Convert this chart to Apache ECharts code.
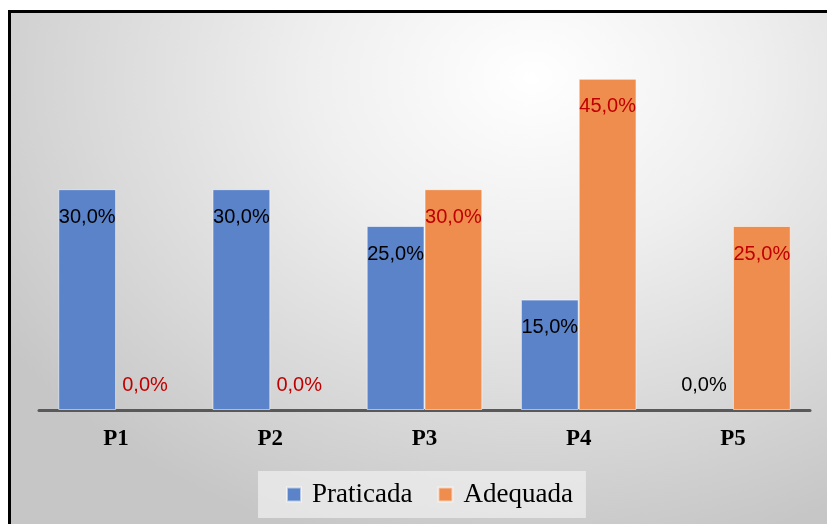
<!DOCTYPE html>
<html>
<head>
<meta charset="utf-8">
<script src="https://cdn.jsdelivr.net/npm/echarts@6/dist/echarts.min.js"></script>
<style>
  html, body { margin: 0; padding: 0; width: 827px; height: 524px; overflow: hidden; background: #fff; }
  #frame {
    position: absolute; left: 8px; top: 10px; width: 840px; height: 540px;
    border-left: 3px solid #000; border-top: 3px solid #000;
    background: radial-gradient(ellipse 75% 90% at 62% 12%, #ffffff 0%, #efefef 35%, #d6d6d6 75%, #c6c6c6 100%);
  }
  #chart { position: absolute; left: 0; top: 0; width: 827px; height: 524px; }
</style>
</head>
<body>
<div id="frame"></div>
<div id="chart"></div>
<script>
// dados do gráfico
var categorias = ["P1", "P2", "P3", "P4", "P5"];
var praticada = [30, 30, 25, 15, 0];
var adequada = [0, 0, 30, 45, 25];

function rotulos(valores, cor) {
  return valores.map(function (v) {
    if (v === 0) {
      return {
        value: v,
        itemStyle: { borderWidth: 0, color: "transparent" },
        label: { position: "top", offset: [0, -10], color: cor }
      };
    }
    return { value: v, label: { position: "insideTop", offset: [0, 13], color: cor } };
  });
}

function fmt(p) { return p.value.toFixed(1).replace(".", ",") + "%"; }

var chart = echarts.init(document.getElementById("chart"));
chart.setOption({
  backgroundColor: "transparent",
  animation: false,
  grid: { left: 39, right: 17, top: 42, bottom: 114 },
  legend: {
    bottom: 6,
    left: 258,
    data: ["Praticada", "Adequada"],
    itemWidth: 14,
    itemHeight: 14,
    itemGap: 25,
    padding: [10, 13, 10, 28],
    backgroundColor: "rgba(238,238,238,0.75)",
    icon: "rect",
    textStyle: { fontFamily: "Liberation Serif", fontSize: 27, color: "#000", padding: [0, 0, 0, 6] }
  },
  xAxis: {
    type: "category",
    data: categorias,
    axisLine: { lineStyle: { color: "#595959", width: 3 } },
    axisTick: { show: false },
    axisLabel: { fontFamily: "Liberation Serif", fontWeight: "bold", fontSize: 23, color: "#000", margin: 18 }
  },
  yAxis: {
    type: "value",
    min: 0,
    max: 50,
    show: false,
    splitLine: { show: false }
  },
  series: [
    {
      name: "Praticada",
      type: "bar",
      barGap: "0%",
      barCategoryGap: "25%",
      itemStyle: { color: "#5b83c9", borderColor: "rgba(255,255,255,0.55)", borderWidth: 1 },
      label: { show: true, fontFamily: "Liberation Sans", fontSize: 20, formatter: fmt },
      data: rotulos(praticada, "#000000")
    },
    {
      name: "Adequada",
      type: "bar",
      itemStyle: { color: "#ee8d4e", borderColor: "rgba(255,255,255,0.55)", borderWidth: 1 },
      label: { show: true, fontFamily: "Liberation Sans", fontSize: 20, formatter: fmt },
      data: rotulos(adequada, "#c00000")
    }
  ]
});
</script>
</body>
</html>
